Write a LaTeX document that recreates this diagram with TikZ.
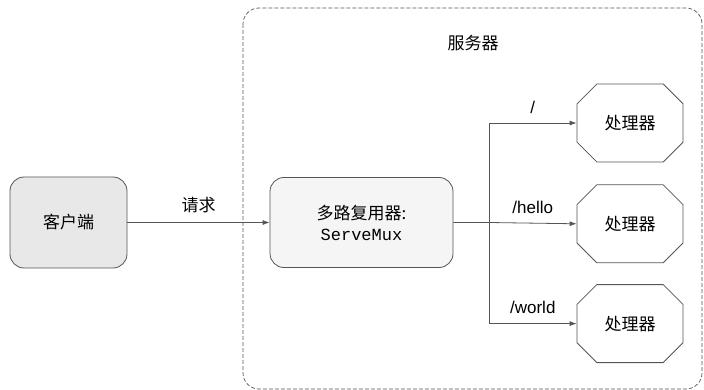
\documentclass[tikz,border=0pt]{standalone}
\usepackage{fontspec}
\setmainfont{Liberation Sans}
\setmonofont{Liberation Mono}
\newfontfamily\cjk{Noto Sans CJK SC}
\usetikzlibrary{positioning,shapes.misc,arrows.meta}
\definecolor{linegray}{HTML}{555555}
\begin{document}
\begin{tikzpicture}[x=1pt,y=-1pt,font=\fontsize{17}{21}\selectfont,>={Latex[length=7pt,width=5pt]}]
    \tikzstyle{block} = [rectangle,rounded corners=14pt,draw=linegray,line width=0.8pt,text centered,inner sep=0pt]
    \tikzstyle{handler} = [chamfered rectangle,chamfered rectangle xsep=12pt,chamfered rectangle ysep=12pt,draw=linegray,line width=0.8pt,fill=white,minimum width=106pt,minimum height=78pt,inner sep=0pt]
    \useasboundingbox (0,0) rectangle (704,390);
    \draw [linegray,dash pattern=on 4pt off 2pt,line width=0.7pt,rounded corners=16pt] (243,8) rectangle (702,389);
    \node (server) at (473,43) {\cjk 服务器};
    \node (client)[block,fill=black!9,minimum width=117pt,minimum height=91pt] at (68.5,222.5) {\cjk 客户端};
    \node (mux)[block,fill=black!4,minimum width=183pt,minimum height=90pt,align=center] at (361.5,222.5) {\cjk 多路复用器:\\\texttt{ServeMux}};
    \node (handlerroot)[handler] at (630,123) {\cjk 处理器};
    \node (handlerhello)[handler,below=22pt of handlerroot] {\cjk 处理器};
    \node (handlerworld)[handler,below=21pt of handlerhello] {\cjk 处理器};
    \coordinate (split) at (489,222.5);
    \draw [->,linegray,line width=0.8pt] (client.east) -- node [above=6pt,black]{\cjk 请求} (mux.west);
    \draw [->,linegray,line width=0.8pt] (mux.east) -- (split) -- node [above=6pt,black]{/hello} (handlerhello.west);
    \draw [->,linegray,line width=0.8pt] (split) |- node [pos=0.75,above=6pt,black]{/} (handlerroot.west);
    \draw [->,linegray,line width=0.8pt] (split) |- node [pos=0.75,above=6pt,black]{/world} (handlerworld.west);
\end{tikzpicture}
\end{document}
